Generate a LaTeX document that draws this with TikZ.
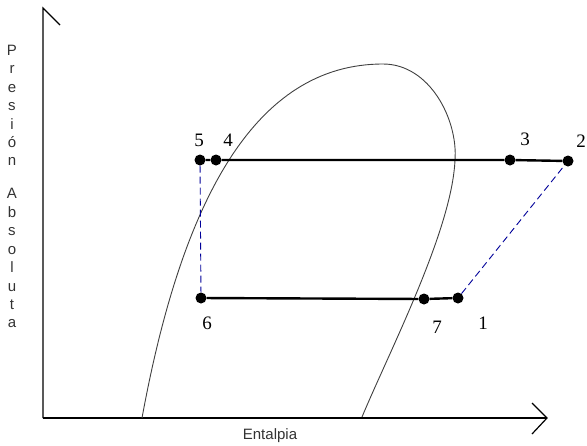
\documentclass[tikz,border=0pt]{standalone}
\usepackage{fontspec}
\setmainfont{Liberation Serif}
\setsansfont{Liberation Sans}
\usepackage{tikz}
\usetikzlibrary{positioning}

\begin{document}
\begin{tikzpicture}[x=1pt, y=-1pt,
  every node/.style={inner sep=0pt},
  axis/.style={line width=1.2pt, black},
  cycle/.style={line width=2.4pt, black},
  dome/.style={line width=0.9pt, black!75},
  trans/.style={line width=0.9pt, blue!60!black, dash pattern=on 7pt off 4pt},
  state/.style={circle, fill=black, minimum size=11pt},
  num/.style={font=\fontsize{19}{21}\selectfont},
  axlabel/.style={font=\sffamily\fontsize{15}{17}\selectfont, text=black!80}
]
\useasboundingbox (0,0) rectangle (587,445);

% Axes
\coordinate (o) at (43,418);
\coordinate (ytop) at (43,8);
\coordinate (xend) at (547,418);
\draw[axis] (o) -- (ytop) -- (60,25);
\draw[axis] (o) -- (xend);
\draw[axis] (532,403) -- (xend) -- (532,434);
\node[axlabel] (xlab) at (270,436) {Entalpia};
\foreach \ch/\yy in {P/50,r/68,e/87,s/105,i/124,ó/142,n/160,A/193,b/212,s/230,o/249,l/267,u/286,t/304,a/322}
  \node[axlabel, anchor=base] at (12,\yy+5) {\ch};

% Saturation dome
\draw[dome] (142,418) .. controls (182,200) and (255,64) .. (383,64)
  .. controls (430,64) and (458,120) .. (455,160)
  .. controls (452,230) and (390,350) .. (362,417);

% States
\node[state] (p5) at (200,160) {};
\node[state] (p4) at (216,160) {};
\node[state] (p3) at (510,160) {};
\node[state] (p2) at (568,161) {};
\node[state] (p6) at (201,298) {};
\node[state] (p7) at (424,299) {};
\node[state] (p1) at (458,298) {};

% Cycle lines
\draw[cycle] (p5) -- (p4) -- (p3) -- (p2);
\draw[cycle] (p6) -- (p7) -- (p1);
\draw[trans] (p5) -- (p6);
\draw[trans] (p1) -- (p2);

% Labels
\node[num] (l5) at (199,140) {5};
\node[num] (l4) at (228,140) {4};
\node[num] (l3) at (525,139) {3};
\node[num] (l2) at (581,141) {2};
\node[num] (l6) at (207,323) {6};
\node[num] (l7) at (437,327) {7};
\node[num] (l1) at (483,323) {1};

\end{tikzpicture}
\end{document}
